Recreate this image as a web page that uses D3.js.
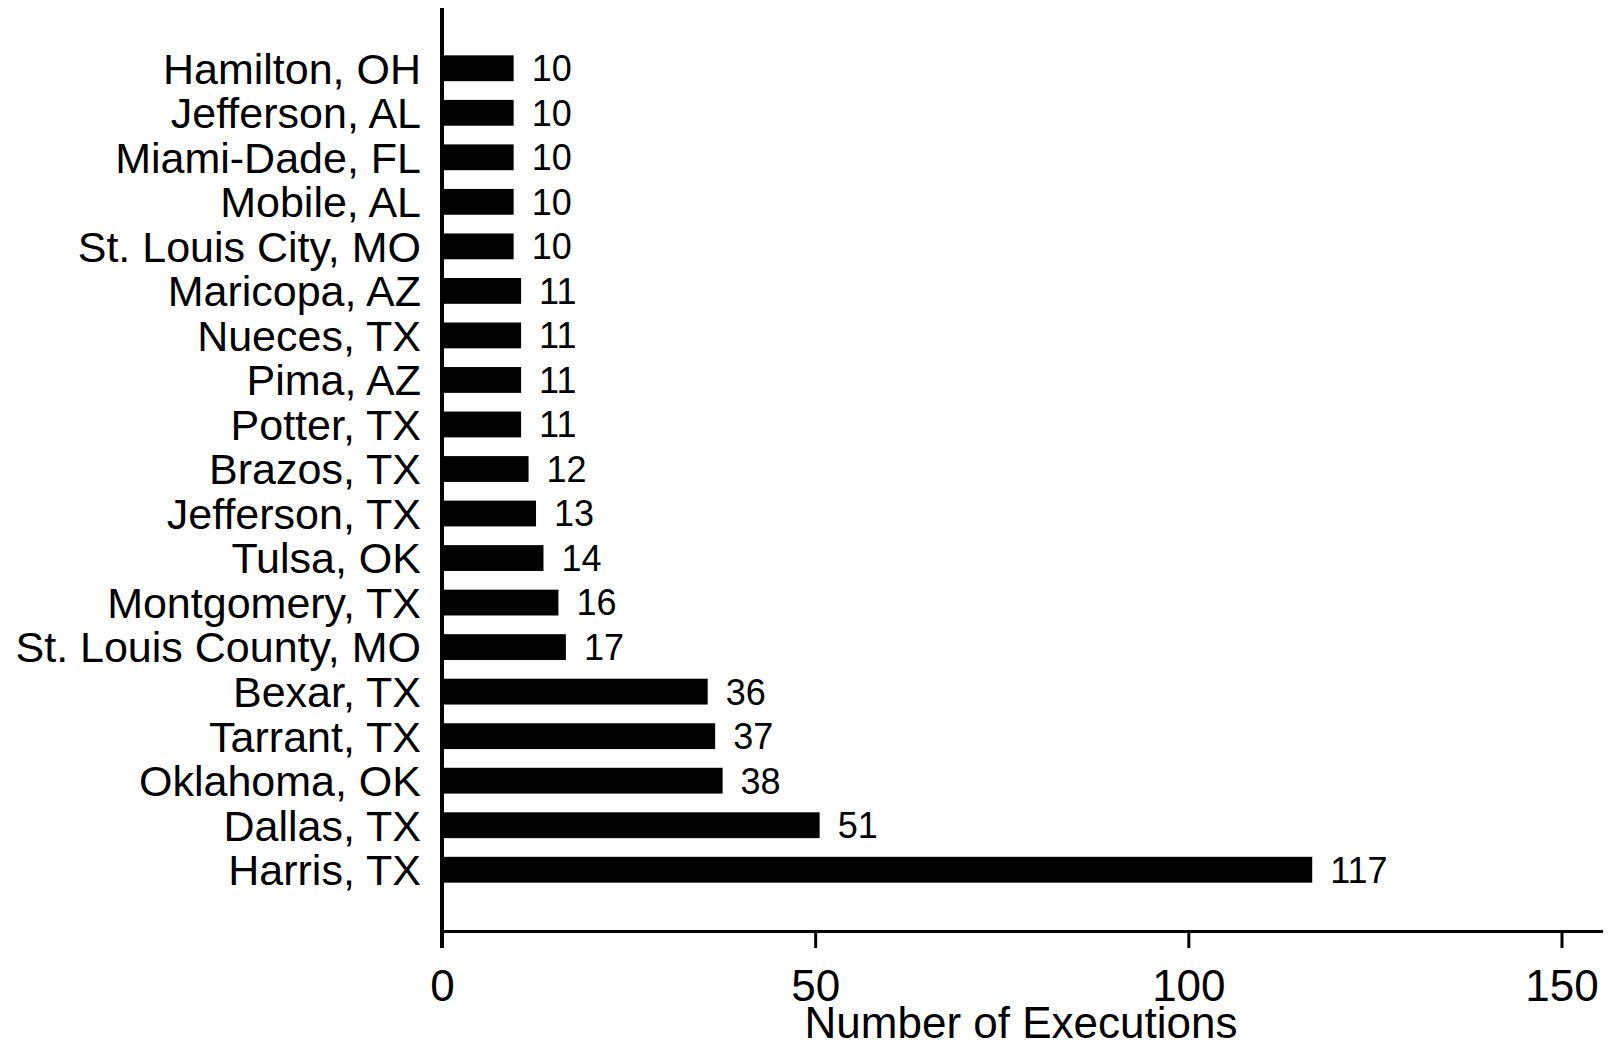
<!DOCTYPE html>
<html>
<head>
<meta charset="utf-8">
<script src="https://cdn.jsdelivr.net/npm/d3@7"></script>
<style>
html,body{margin:0;padding:0;background:#fff;}
svg{display:block;}
text{font-family:"Liberation Sans",Arial,sans-serif;fill:#000;}
</style>
</head>
<body>
<svg id="chart" width="1608" height="1041"></svg>
<script>
const categories = ["Hamilton, OH","Jefferson, AL","Miami-Dade, FL","Mobile, AL","St. Louis City, MO","Maricopa, AZ","Nueces, TX","Pima, AZ","Potter, TX","Brazos, TX","Jefferson, TX","Tulsa, OK","Montgomery, TX","St. Louis County, MO","Bexar, TX","Tarrant, TX","Oklahoma, OK","Dallas, TX","Harris, TX"];
const values = [10,10,10,10,10,11,11,11,11,12,13,14,16,17,36,37,38,51,117];
const xTicks = [0,50,100,150];
const xTitle = "Number of Executions";

const svg = d3.select("#chart");
const x = d3.scaleLinear().domain([0,150]).range([442,1561.5]);
const y = d3.scaleBand().domain(categories).range([46,892]).paddingInner(0.42).paddingOuter(0.21);

// bars
svg.append("g").selectAll("rect").data(categories).join("rect")
  .attr("x", x(0))
  .attr("y", d => y(d))
  .attr("width", (d,i) => x(values[i]) - x(0) - 3)
  .attr("height", y.bandwidth())
  .attr("fill", "#000");

// value labels
svg.append("g").selectAll("text").data(categories).join("text")
  .attr("x", (d,i) => x(values[i]) + 15)
  .attr("y", d => y(d) + y.bandwidth()/2 + 0.358*36)
  .attr("font-size", 36)
  .text((d,i) => values[i]);

// category labels
svg.append("g").selectAll("text").data(categories).join("text")
  .attr("x", 421)
  .attr("y", d => y(d) + y.bandwidth()/2 + 0.358*43)
  .attr("text-anchor", "end")
  .attr("font-size", 43)
  .text(d => d);

// x axis
const xAxis = d3.axisBottom(x).tickValues(xTicks).tickSize(16).tickPadding(22).tickSizeOuter(0);
const gx = svg.append("g").attr("transform", "translate(0,932)").call(xAxis);
gx.select(".domain").remove();
gx.selectAll(".tick line").attr("stroke", "#000").attr("stroke-width", 3);
gx.selectAll(".tick text").attr("font-size", 44).attr("font-family", "Liberation Sans, Arial, sans-serif").attr("fill", "#000");

// axis lines
svg.append("line").attr("x1", 440).attr("x2", 1603).attr("y1", 931.5).attr("y2", 931.5)
  .attr("stroke", "#000").attr("stroke-width", 3);
svg.append("line").attr("x1", 442).attr("x2", 442).attr("y1", 8).attr("y2", 948)
  .attr("stroke", "#000").attr("stroke-width", 4);

// x title
svg.append("text").attr("x", 1021).attr("y", 1038)
  .attr("text-anchor", "middle").attr("font-size", 44).text(xTitle);
</script>
</body>
</html>
